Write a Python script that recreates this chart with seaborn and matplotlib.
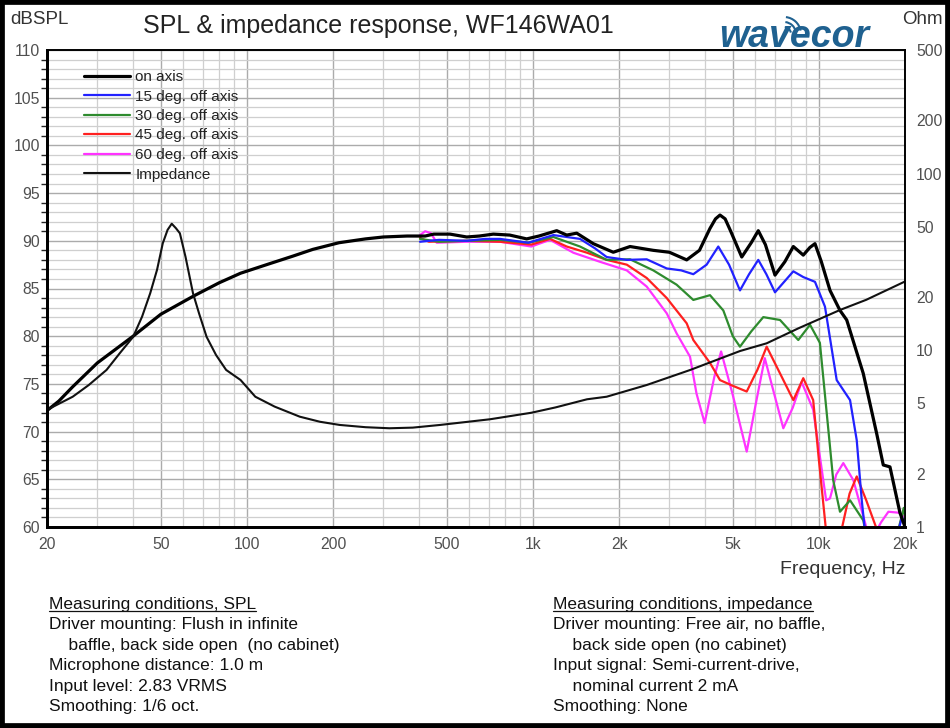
import seaborn as sns
import matplotlib.pyplot as plt
from matplotlib.patches import Rectangle, Arc
from matplotlib.lines import Line2D
from matplotlib.ticker import FixedLocator, NullFormatter, NullLocator

# SPL curves (Hz, dB)
freq_on = [20, 22, 24.6, 30, 35, 40, 50, 65, 80, 95, 120, 145, 170, 210, 260, 300, 363, 420,
           450, 513, 587, 650, 727, 830, 951, 1050, 1211, 1313, 1423, 1626, 1910, 2186, 2400,
           2636, 3000, 3449, 3822, 4161, 4350, 4509, 4700, 4900, 5373, 5800, 6138, 6500, 7022,
           7600, 8139, 8817, 9300, 9689, 10200, 10935, 11850, 12510, 14290, 15920, 16790, 17720,
           19200, 20000]
spl_on = [72.2, 73.2, 74.7, 77.2, 78.7, 80.0, 82.3, 84.2, 85.6, 86.6, 87.6, 88.4, 89.1, 89.8,
          90.2, 90.4, 90.5, 90.5, 90.7, 90.7, 90.4, 90.5, 90.7, 90.6, 90.2, 90.5, 91.06, 90.6,
          90.8, 89.7, 88.8, 89.4, 89.2, 89.0, 88.8, 88.0, 89.0, 91.3, 92.3, 92.7, 92.3, 91.1,
          88.3, 89.8, 91.06, 89.6, 86.4, 87.8, 89.4, 88.5, 89.3, 89.7, 87.8, 84.8, 82.7, 81.7,
          76.1, 69.8, 66.5, 66.3, 61.5, 60.0]

freq_15 = [403, 470, 587, 680, 767, 860, 964, 1179, 1461, 1650, 1811, 2129, 2500, 2937, 3300,
           3638, 4050, 4448, 4850, 5297, 5700, 6138, 6550, 7022, 8139, 8817, 9689, 10500,
           11540, 12850, 13560, 14120, 14500, 16000, 18000, 19500, 20000]
spl_15 = [89.9, 90.1, 90.0, 90.2, 90.2, 90.0, 89.8, 90.6, 90.2, 89.2, 88.3, 88.0, 88.06, 87.1,
          86.9, 86.5, 87.5, 89.4, 87.5, 84.8, 86.5, 88.0, 86.5, 84.6, 86.8, 86.2, 85.7, 83.1,
          75.4, 73.3, 69.1, 62.8, 59.5, 55.0, 57.0, 61.0, 60.5]

freq_30 = [403, 470, 587, 767, 964, 1179, 1461, 1811, 2186, 2636, 3180, 3638, 4161, 4632,
           5000, 5297, 5800, 6390, 7312, 8470, 9310, 10080, 10935, 11220, 11850, 12850, 14290,
           14800, 18000, 19800, 20000]
spl_30 = [90.2, 89.9, 90.0, 90.1, 89.8, 90.4, 89.4, 88.0, 88.06, 86.9, 85.4, 83.8, 84.3, 82.7,
          80.0, 78.9, 80.5, 82.0, 81.7, 79.6, 81.2, 79.3, 68.4, 64.9, 61.6, 62.8, 60.7, 58.5,
          57.0, 62.0, 61.0]

freq_45 = [403, 433, 587, 767, 987, 1148, 1313, 1546, 1811, 2129, 2500, 2937, 3449, 3638,
           4161, 4509, 5000, 5592, 6100, 6567, 7312, 8139, 8817, 9550, 10000, 10600, 11000,
           11960, 12800, 13560, 14640, 15920, 17000]
spl_45 = [90.3, 89.9, 90.0, 89.9, 89.6, 90.2, 89.4, 88.75, 88.0, 87.5, 86.1, 84.0, 81.35, 79.6,
          77.2, 75.4, 74.8, 74.2, 76.5, 78.9, 76.1, 73.3, 75.6, 73.3, 67.0, 59.5, 55.0, 59.5,
          63.5, 65.3, 62.8, 59.8, 56.0]

freq_60 = [403, 420, 440, 461, 587, 767, 987, 1148, 1385, 1716, 2129, 2500, 2937, 3180, 3543,
           3732, 3985, 4310, 4550, 4983, 5592, 6051, 6468, 6900, 7508, 8100, 8700, 9550,
           10600, 10935, 11500, 12170, 13200, 14640, 15500, 16500, 17500, 19000, 20000]
spl_60 = [90.6, 91.0, 90.8, 89.8, 89.9, 89.9, 89.4, 90.1, 88.75, 87.8, 86.9, 85.2, 82.4, 80.3,
          77.85, 74.0, 70.9, 75.75, 78.4, 74.0, 67.9, 73.3, 77.7, 74.5, 70.35, 72.5, 75.2,
          72.3, 62.8, 63.0, 65.5, 66.7, 64.9, 60.0, 59.0, 60.5, 61.6, 61.5, 61.0]

# Impedance (Hz, Ohm)
freq_imp = [20, 24.6, 28, 32.3, 36, 40, 43, 45.9, 48.5, 50.8, 52.8, 54.6, 56.5, 58.3, 61,
            64.8, 68, 72.3, 78, 84.6, 95, 107, 125, 153, 180, 211, 260, 315, 380, 474, 708,
            987, 1200, 1546, 1811, 2500, 3543, 5297, 6567, 8470, 11850, 14640, 20000]
ohm_imp = [4.6, 5.46, 6.36, 7.74, 9.66, 11.9, 15.5, 21.0, 28.5, 40.3, 48.0, 52.0, 49.0, 45.9,
           33.8, 21.0, 16.2, 11.9, 9.4, 7.74, 6.79, 5.46, 4.8, 4.21, 3.94, 3.78, 3.67, 3.62,
           3.65, 3.78, 4.07, 4.43, 4.75, 5.28, 5.46, 6.36, 7.73, 9.9, 10.95, 13.3, 16.9, 19.3,
           24.5]

x_ticks = [20, 50, 100, 200, 500, 1000, 2000, 5000, 10000, 20000]
x_labels = ['20', '50', '100', '200', '500', '1k', '2k', '5k', '10k', '20k']
ohm_ticks = [1, 2, 5, 10, 20, 50, 100, 200, 500]

sns.set_theme(style='white')
plt.rcParams['font.family'] = ['Liberation Sans', 'DejaVu Sans']

fig = plt.figure(figsize=(9.5, 7.28), dpi=100)
ax = fig.add_axes([47 / 950, 1 - 527 / 728, 858 / 950, 477 / 728])
ax2 = ax.twinx()

ax.set_xscale('log')
ax.set_xlim(20, 20000)
ax.set_ylim(60, 110)
ax2.set_yscale('log')
ax2.set_ylim(1, 500)

# grid
minor_x = [m * d for d in [10, 100, 1000, 10000] for m in range(1, 10) if 20 <= m * d <= 20000]
ax.xaxis.set_major_locator(FixedLocator(x_ticks))
ax.xaxis.set_minor_locator(FixedLocator(minor_x))
ax.xaxis.set_minor_formatter(NullFormatter())
ax.set_xticklabels(x_labels)
ax.yaxis.set_major_locator(FixedLocator(range(60, 111, 5)))
ax.yaxis.set_minor_locator(FixedLocator(range(60, 111, 1)))
ax.grid(which='minor', color='#cfcfcf', lw=0.9)
ax.grid(which='major', color='#ababab', lw=1.0)
ax.set_axisbelow(True)

ax2.yaxis.set_major_locator(FixedLocator(ohm_ticks))
ax2.yaxis.set_minor_locator(NullLocator())
ax2.set_yticklabels([str(t) for t in ohm_ticks])
ax2.grid(False)

sns.lineplot(x=freq_on, y=spl_on, ax=ax, color='black', lw=2.3, label='on axis', zorder=6)
sns.lineplot(x=freq_15, y=spl_15, ax=ax, color='#2222ff', lw=1.6, label='15 deg. off axis', zorder=5)
sns.lineplot(x=freq_30, y=spl_30, ax=ax, color='#2e8b2e', lw=1.6, label='30 deg. off axis', zorder=4)
sns.lineplot(x=freq_45, y=spl_45, ax=ax, color='#ff2020', lw=1.6, label='45 deg. off axis', zorder=3)
sns.lineplot(x=freq_60, y=spl_60, ax=ax, color='#ff33ff', lw=1.6, label='60 deg. off axis', zorder=2)
sns.lineplot(x=freq_imp, y=ohm_imp, ax=ax2, color='#111111', lw=1.5, label='Impedance')

h1, l1 = ax.get_legend_handles_labels()
h2, l2 = ax2.get_legend_handles_labels()
if ax.get_legend():
    ax.get_legend().remove()
ax2.legend(h1 + h2, l1 + l2, loc='upper left', bbox_to_anchor=(84 / 950, 1 - 70 / 728),
           bbox_transform=fig.transFigure, frameon=False, fontsize=11, labelspacing=0.36,
           handlelength=3.0, handletextpad=0.35, borderaxespad=0, borderpad=0)
for t in ax2.get_legend().get_texts():
    t.set_color('#222222')

for a in (ax, ax2):
    a.tick_params(axis='both', length=0, labelsize=11.3, labelcolor='#505050')
ax.tick_params(axis='y', pad=5)
ax.tick_params(axis='x', pad=7)
ax2.tick_params(axis='y', pad=8)
ax.set_xlabel('')
ax.set_ylabel('')
ax2.set_ylabel('')

for a in (ax, ax2):
    for s in a.spines.values():
        s.set_color('black')
        s.set_visible(True)
    a.spines['left'].set_linewidth(2.0)
    a.spines['bottom'].set_linewidth(2.0)
    a.spines['top'].set_linewidth(1.2)
    a.spines['right'].set_linewidth(1.2)

# header texts
fig.text(10 / 950, 1 - 20 / 728, 'dBSPL', fontsize=13.5, color='#333333', va='center')
fig.text(943 / 950, 1 - 20 / 728, 'Ohm', fontsize=13.5, color='#333333', va='center', ha='right')
fig.text(378 / 950, 1 - 26 / 728, 'SPL & impedance response, WF146WA01', fontsize=18,
         color='#222222', ha='center', va='center')
fig.text(794 / 950, 1 - 37 / 728, 'wavecor', fontsize=27, style='italic', weight='bold',
         color='#1f6190', ha='center', va='center')
for r in (7, 12, 17):
    fig.add_artist(Arc((784 / 950, 1 - 34 / 728), 2 * r / 950, 2 * r / 728, theta1=15,
                       theta2=85, transform=fig.transFigure, color='#1f6190', lw=1.5))

fig.text(905 / 950, 1 - 570 / 728, 'Frequency, Hz', fontsize=14, color='#333333',
         ha='right', va='center')

# measuring conditions
left_lines = ['Measuring conditions, SPL', 'Driver mounting: Flush in infinite',
              '    baffle, back side open  (no cabinet)', 'Microphone distance: 1.0 m',
              'Input level: 2.83 VRMS', 'Smoothing: 1/6 oct.']
right_lines = ['Measuring conditions, impedance', 'Driver mounting: Free air, no baffle,',
               '    back side open (no cabinet)', 'Input signal: Semi-current-drive,',
               '    nominal current 2 mA', 'Smoothing: None']
heads = []
for col_x, lines in ((49, left_lines), (553, right_lines)):
    for i, line in enumerate(lines):
        t = fig.text(col_x / 950, 1 - (604 + i * 20.6) / 728, line, fontsize=12.5,
                     color='#111111', va='center')
        if i == 0:
            heads.append(t)

fig.canvas.draw()
r = fig.canvas.get_renderer()
for t in heads:
    bb = t.get_window_extent(r)
    y = (bb.y0 + 1) / 728
    fig.add_artist(Line2D([bb.x0 / 950, bb.x1 / 950], [y, y], transform=fig.transFigure,
                          color='#111111', lw=0.9))

fig.add_artist(Rectangle((0, 0), 1, 1, transform=fig.transFigure, fill=False, lw=7,
                         ec='black'))

fig.savefig('out.png', dpi=100)
